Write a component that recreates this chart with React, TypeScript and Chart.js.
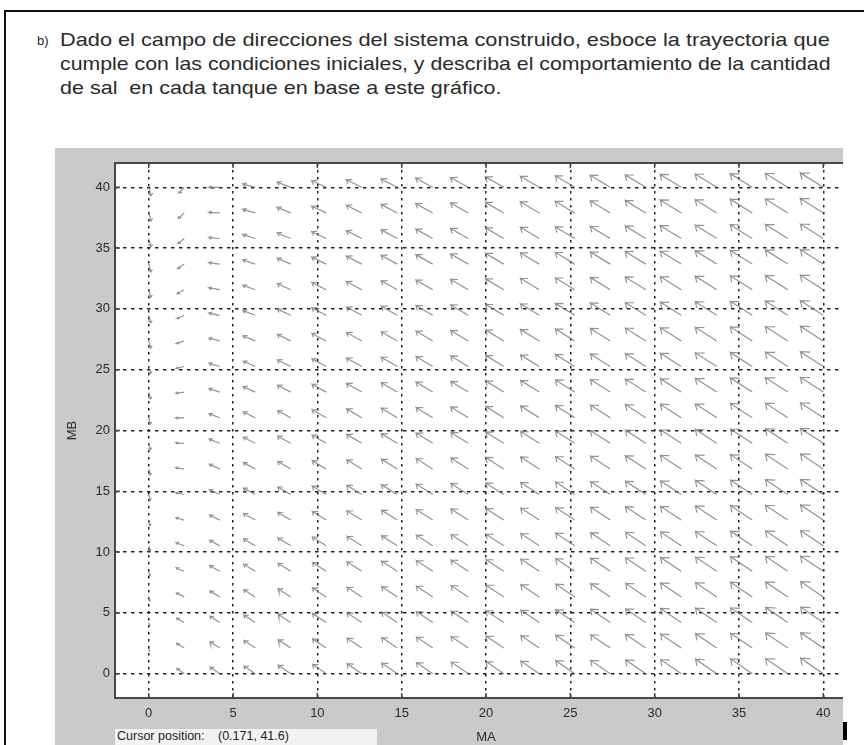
import React, { useEffect, useLayoutEffect, useRef } from 'react';
import { Chart, registerables } from 'chart.js';

Chart.register(...registerables);

// ---------- data ----------
// grid of the direction field (20 points on each axis, 0..40)
const gridMA = [0, 2.105, 4.211, 6.316, 8.421, 10.526, 12.632, 14.737, 16.842, 18.947, 21.053, 23.158, 25.263, 27.368, 29.474, 31.579, 33.684, 35.789, 37.895, 40];
const gridMB = [0, 2.105, 4.211, 6.316, 8.421, 10.526, 12.632, 14.737, 16.842, 18.947, 21.053, 23.158, 25.263, 27.368, 29.474, 31.579, 33.684, 35.789, 37.895, 40];
// linear system read from the arrow directions: d/dt [MA, MB] = [rowMA; rowMB] * [MA, MB]
const rowMA = [-1.0, 0.02];
const rowMB = [0.95, -0.1];
const xTicks = [0, 5, 10, 15, 20, 25, 30, 35, 40];
const yTicks = [0, 5, 10, 15, 20, 25, 30, 35, 40];
const xRange = [-2, 42];
const yRange = [-2, 42];
const xTitle = 'MA';
const yTitle = 'MB';
const labelB = 'b)';
const headerLines = [
  'Dado el campo de direcciones del sistema construido, esboce la trayectoria que',
  'cumple con las condiciones iniciales, y describa el comportamiento de la cantidad',
  'de sal  en cada tanque en base a este gráfico.',
];
const cursorLabel = 'Cursor position:';
const cursorValue = '(0.171, 41.6)';

// ---------- styles ----------
const ARROW_K = 0.403; // arrow length (data units) = ARROW_K * |velocity|^ARROW_P
const ARROW_P = 0.38;
const HEAD_ALPHA = 0.25;
const HEAD_BETA = 0.8;
const FONT = '"Liberation Sans", Arial, Helvetica, sans-serif';
const AXIS_COLOR = '#474747';
const TICK_LEN = 5;

function buildArrows() {
  const pts: { x: number; y: number | null }[] = [];
  for (const a of gridMA) {
    for (const b of gridMB) {
      const du = rowMA[0] * a + rowMA[1] * b;
      const dv = rowMB[0] * a + rowMB[1] * b;
      const mag = Math.hypot(du, dv);
      if (mag === 0) continue;
      const len = ARROW_K * Math.pow(mag, ARROW_P);
      const u = (du / mag) * len;
      const v = (dv / mag) * len;
      const tx = a + u;
      const ty = b + v;
      const l = { x: tx - HEAD_ALPHA * (u + HEAD_BETA * v), y: ty - HEAD_ALPHA * (v - HEAD_BETA * u) };
      const r = { x: tx - HEAD_ALPHA * (u - HEAD_BETA * v), y: ty - HEAD_ALPHA * (v + HEAD_BETA * u) };
      pts.push({ x: a, y: b }, { x: tx, y: ty }, l, { x: tx, y: null });
      pts.push({ x: tx, y: ty }, r, { x: tx, y: null });
    }
  }
  return pts;
}

const boxPlugin = {
  id: 'matlabBox',
  beforeDraw(chart: any) {
    const { ctx, chartArea } = chart;
    const { left, right, top, bottom } = chartArea;
    ctx.save();
    ctx.fillStyle = '#ffffff';
    ctx.fillRect(left, top, right - left, bottom - top);
    ctx.restore();
  },
  afterDatasetsDraw(chart: any) {
    const { ctx, chartArea, scales } = chart;
    const { left, right, top, bottom } = chartArea;
    const x = scales.x;
    const y = scales.y;
    ctx.save();
    ctx.strokeStyle = AXIS_COLOR;
    ctx.lineWidth = 1.5;
    ctx.beginPath();
    for (const t of xTicks) {
      const px = x.getPixelForValue(t);
      ctx.moveTo(px, bottom);
      ctx.lineTo(px, bottom - TICK_LEN);
      ctx.moveTo(px, top);
      ctx.lineTo(px, top + TICK_LEN);
    }
    for (const t of yTicks) {
      const py = y.getPixelForValue(t);
      ctx.moveTo(left, py);
      ctx.lineTo(left + TICK_LEN, py);
      ctx.moveTo(right, py);
      ctx.lineTo(right - TICK_LEN, py);
    }
    ctx.stroke();
    ctx.lineWidth = 2;
    ctx.strokeRect(left, top, right - left, bottom - top);
    ctx.restore();
  },
};

export default function App() {
  const canvasRef = useRef<HTMLCanvasElement | null>(null);
  const lineRefs = useRef<(HTMLDivElement | null)[]>([]);
  const lineWidths = [770, 771, 377];

  useLayoutEffect(() => {
    const scales: number[] = [];
    lineRefs.current.forEach((el, i) => {
      if (!el) return;
      el.style.transform = 'none';
      const w = el.scrollWidth;
      scales[i] = w > 0 ? lineWidths[i] / w : 1;
    });
    const avg = (scales[0] + scales[1]) / 2;
    lineRefs.current.forEach((el, i) => {
      if (!el) return;
      const s = i < 2 ? scales[i] : avg;
      el.style.transform = `scaleX(${s})`;
    });
  }, []);

  useEffect(() => {
    if (!canvasRef.current) return;
    const chart = new Chart(canvasRef.current, {
      type: 'line',
      data: {
        datasets: [
          {
            data: buildArrows() as any,
            borderColor: 'rgba(120,120,120,0.8)',
            borderWidth: 1.2,
            pointRadius: 0,
            spanGaps: false,
            tension: 0,
            fill: false,
          },
        ],
      },
      options: {
        animation: false,
        responsive: false,
        events: [],
        layout: { padding: { left: 0, top: 15, right: 28, bottom: 0 } },
        plugins: { legend: { display: false }, tooltip: { enabled: false } },
        scales: {
          x: {
            type: 'linear',
            min: xRange[0],
            max: xRange[1],
            afterBuildTicks: (axis: any) => {
              axis.ticks = xTicks.map((v) => ({ value: v }));
            },
            afterFit: (axis: any) => {
              axis.height = 47;
            },
            grid: { color: '#222', lineWidth: 1.5, drawTicks: false },
            border: { display: false, dash: [2.5, 4.5] },
            ticks: { color: '#2a2a2a', padding: 8, font: { family: FONT, size: 13 }, maxRotation: 0 },
            title: { display: true, text: xTitle, color: '#2a2a2a', padding: { top: 0, bottom: 0 }, font: { family: FONT, size: 13 } },
          },
          y: {
            type: 'linear',
            min: yRange[0],
            max: yRange[1],
            afterBuildTicks: (axis: any) => {
              axis.ticks = yTicks.map((v) => ({ value: v }));
            },
            afterFit: (axis: any) => {
              axis.width = 60;
            },
            grid: { color: '#222', lineWidth: 1.5, drawTicks: false },
            border: { display: false, dash: [3.5, 4.5] },
            ticks: { color: '#2a2a2a', padding: 5, font: { family: FONT, size: 13 } },
            title: { display: true, text: yTitle, color: '#2a2a2a', padding: { top: 10, bottom: 0 }, font: { family: FONT, size: 13 } },
          },
        },
      },
      plugins: [boxPlugin],
    });
    return () => chart.destroy();
  }, []);

  const lineTops = [28, 52, 76];

  return (
    <div
      style={{
        position: 'fixed',
        left: 0,
        top: 0,
        width: 864,
        height: 745,
        background: '#fff',
        overflow: 'hidden',
        fontFamily: FONT,
      }}
    >
      <div
        style={{
          position: 'absolute',
          left: 4,
          top: 10,
          width: 900,
          height: 800,
          borderLeft: '2px solid #111',
          borderTop: '2px solid #111',
        }}
      />
      <div style={{ position: 'absolute', left: 37, top: 33, fontSize: 13, lineHeight: '16px', color: '#2a2a2a' }}>{labelB}</div>
      {headerLines.map((t, i) => (
        <div
          key={i}
          ref={(el) => {
            lineRefs.current[i] = el;
          }}
          style={{
            position: 'absolute',
            left: 60,
            top: lineTops[i],
            fontSize: 19,
            lineHeight: '24px',
            whiteSpace: 'pre',
            color: '#2a2a2a',
            transformOrigin: 'left top',
          }}
        >
          {t}
        </div>
      ))}
      <div
        style={{
          position: 'absolute',
          left: 55,
          top: 148,
          width: 788,
          height: 597,
          overflow: 'hidden',
          background: '#cacaca',
        }}
      >
        <canvas ref={canvasRef} width={830} height={597} style={{ position: 'absolute', left: 0, top: 0 }} />
        <div
          style={{
            position: 'absolute',
            left: 60,
            top: 581,
            width: 262,
            height: 16,
            background: '#f2f2f2',
            fontSize: 12.5,
            lineHeight: '15px',
            color: '#222',
            whiteSpace: 'pre',
          }}
        >
          <span style={{ position: 'absolute', left: 2, top: 0 }}>{cursorLabel}</span>
          <span style={{ position: 'absolute', left: 103, top: 0 }}>{cursorValue}</span>
        </div>
      </div>
      <div style={{ position: 'absolute', left: 843, top: 722, width: 4, height: 18, background: '#000' }} />
    </div>
  );
}
